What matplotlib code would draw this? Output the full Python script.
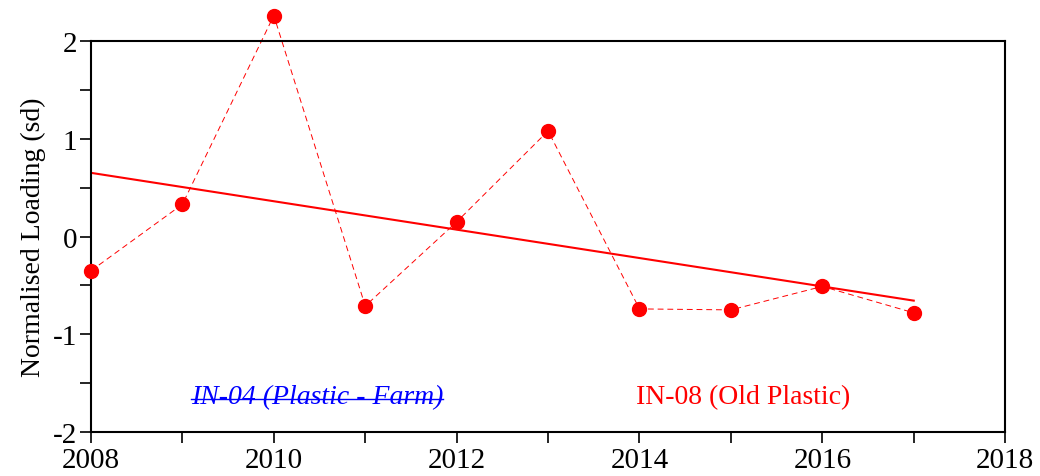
import numpy as np
import matplotlib.pyplot as plt
from matplotlib.ticker import MultipleLocator

years = [2008, 2009, 2010, 2011, 2012, 2013, 2014, 2015, 2016, 2017]
loading = [-0.35, 0.33, 2.26, -0.71, 0.15, 1.08, -0.74, -0.75, -0.51, -0.78]

plt.rcParams['font.family'] = ['Liberation Serif', 'DejaVu Serif']
plt.rcParams['axes.unicode_minus'] = False

fig = plt.figure(figsize=(10.4, 4.77), dpi=100)
ax = fig.add_axes([0.0875, 0.092, 0.879, 0.82])

x = np.array(years)
y = np.array(loading)

# dashed line + points
ax.plot(x, y, color='red', lw=0.7, ls=(0, (6, 4)), clip_on=False, zorder=2)
ax.plot(x, y, 'o', color='red', ms=10, clip_on=False, zorder=3)

# linear trend
coef = np.polyfit(x, y, 1)
ax.plot(x, np.polyval(coef, x), color='red', lw=1.5, zorder=2)

ax.set_xlim(2008, 2018)
ax.set_ylim(-2, 2)
ax.xaxis.set_major_locator(MultipleLocator(2))
ax.xaxis.set_minor_locator(MultipleLocator(1))
ax.yaxis.set_major_locator(MultipleLocator(1))
ax.yaxis.set_minor_locator(MultipleLocator(0.5))
ax.tick_params(which='both', direction='out', length=8, width=1.2, labelsize=21,
               top=False, right=False)
ax.tick_params(axis='x', pad=3)
ax.tick_params(axis='y', pad=2)
for s in ax.spines.values():
    s.set_linewidth(1.5)

ax.set_ylabel('Normalised Loading (sd)', fontsize=20, labelpad=5)

t1 = ax.text(2010.47, -1.64, 'IN-04 (Plastic - Farm)', color='blue', style='italic',
             fontsize=20, ha='center', va='center')
ax.text(2015.13, -1.64, 'IN-08 (Old Plastic)', color='red',
        fontsize=20, ha='center', va='center')

# strike-through on the blue label
fig.canvas.draw()
bb = t1.get_window_extent().transformed(ax.transData.inverted())
ymid = bb.y0 + (bb.y1 - bb.y0) * 0.42
ax.plot([bb.x0, bb.x1], [ymid, ymid], color='blue', lw=1.0)

fig.savefig('out.png', dpi=100)
